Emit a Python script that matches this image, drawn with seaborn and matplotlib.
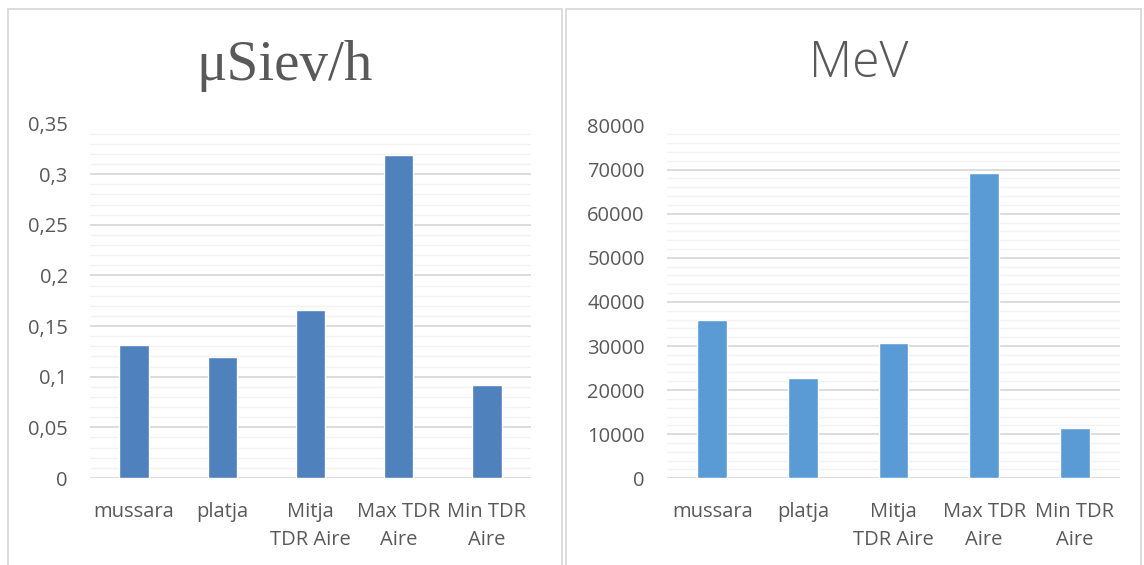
import numpy as np
import pandas as pd
import matplotlib
matplotlib.use("Agg")
import matplotlib.pyplot as plt
from matplotlib.patches import Rectangle
from matplotlib.ticker import MultipleLocator, FuncFormatter
import seaborn as sns

# Daten
categories = ["mussara", "platja", "Mitja\nTDR Aire", "Max TDR\nAire", "Min TDR\nAire"]
usiev_values = [0.131, 0.119, 0.166, 0.319, 0.092]
mev_values = [36000, 22800, 30700, 69200, 11400]

sns.set_style("white")
plt.rcParams['font.family'] = ['Open Sans', 'DejaVu Sans']

text_col = "#595959"
W, H = 1144, 565
fig = plt.figure(figsize=(W / 100, H / 100), dpi=100)
fig.patch.set_facecolor("white")

# Rahmen der beiden Diagramme
for x0, x1 in [(8, 562), (566, 1141)]:
    fig.patches.append(Rectangle((x0 / W, -0.01), (x1 - x0) / W, 1 - 9 / H + 0.01,
                                 transform=fig.transFigure, fill=False,
                                 edgecolor="#d9d9d9", lw=1.3))


def make_axes(x0, x1, ytop, ybot):
    return fig.add_axes([x0 / W, (H - ybot) / H, (x1 - x0) / W, (ybot - ytop) / H])


def style(ax, ymax, major, minor, fmt):
    ax.set_ylim(0, ymax)
    ax.set_xlim(-0.5, 4.5)
    ax.yaxis.set_major_locator(MultipleLocator(major))
    ax.yaxis.set_minor_locator(MultipleLocator(minor))
    ax.yaxis.set_major_formatter(FuncFormatter(fmt))
    ax.grid(True, which="major", axis="y", color="#d9d9d9", lw=1.3, zorder=0)
    ax.grid(True, which="minor", axis="y", color="#f2f2f2", lw=1.0, zorder=0)
    ax.set_axisbelow(True)
    for s in ax.spines.values():
        s.set_visible(False)
    ax.tick_params(axis="y", which="both", length=0, pad=16, labelsize=14.5, labelcolor=text_col)
    ax.tick_params(axis="x", length=0, pad=17, labelsize=14.5, labelcolor=text_col)
    for lbl in ax.get_xticklabels():
        lbl.set_linespacing(1.55)
        lbl.set_multialignment("center")
    ax.set_xlabel("")
    ax.set_ylabel("")


def fmt_left(v, pos):
    s = f"{v:.2f}".rstrip("0").rstrip(".")
    return s.replace(".", ",")


def fmt_right(v, pos):
    return f"{int(round(v))}"


ax1 = make_axes(90, 531, 123.5, 478)
sns.barplot(x=categories, y=usiev_values, color="#4f81bd", saturation=1, width=0.335, ax=ax1)
style(ax1, 0.35, 0.05, 0.01, fmt_left)

ax2 = make_axes(667, 1120, 125.5, 478.3)
sns.barplot(x=categories, y=mev_values, color="#5b9bd5", saturation=1, width=0.33, ax=ax2)
style(ax2, 80000, 10000, 2000, fmt_right)

fig.text(285 / W, 1 - 66 / H, "μSiev/h", ha="center", va="center", fontsize=41,
         color=text_col, family=["Liberation Serif", "DejaVu Serif"])
fig.text(859 / W, 1 - 64 / H, "MeV", ha="center", va="center", fontsize=36,
         color=text_col, family=["Open Sans", "DejaVu Sans"], fontweight="light")

fig.savefig("out.png", dpi=100, facecolor="white")
